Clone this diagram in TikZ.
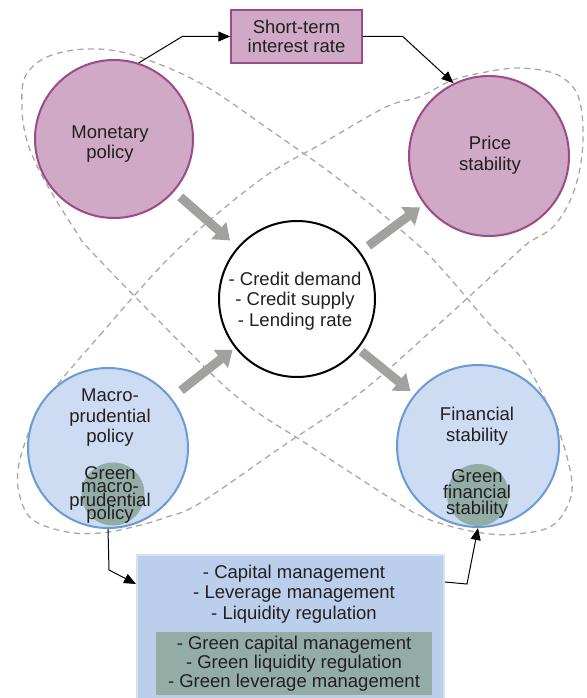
\documentclass[tikz,border=0pt]{standalone}
\usepackage{fontspec}
\setmainfont{Liberation Sans}
\usetikzlibrary{arrows.meta}
\definecolor{pinkfill}{RGB}{207,169,197}
\definecolor{pinkdraw}{RGB}{155,75,135}
\definecolor{bluefill}{RGB}{205,219,243}
\definecolor{bluedraw}{RGB}{105,155,212}
\definecolor{greenfill}{RGB}{147,173,166}
\definecolor{boxfill}{RGB}{187,206,236}
\definecolor{boxdraw}{RGB}{214,225,244}
\definecolor{dashgrey}{RGB}{168,168,168}
\definecolor{arrowgrey}{RGB}{160,162,160}
\definecolor{txt}{RGB}{35,31,32}
\begin{document}
\lineskiplimit=-50pt\relax
\begin{tikzpicture}[x=1pt,y=-1pt,
  font=\fontsize{18.5}{20.5}\selectfont,
  text=txt,
  lbl/.style={align=center, inner sep=0pt},
  pinkcirc/.style={circle, fill=pinkfill, draw=pinkdraw, line width=2pt, minimum size=#1, inner sep=0pt},
  bluecirc/.style={circle, fill=bluefill, draw=bluedraw, line width=2pt, minimum size=#1, inner sep=0pt},
  greencirc/.style={circle, fill=greenfill, minimum size=#1, inner sep=0pt},
  dashcurve/.style={draw=dashgrey, line width=1.3pt, dash pattern=on 6pt off 4.5pt},
  garrow/.style={draw=arrowgrey, line width=9pt, -{Triangle[length=15pt,width=22pt]}},
  blk/.style={draw=black, line width=1pt, -{Triangle[length=12pt,width=10pt]}}
]
\useasboundingbox (0,0) rectangle (586,698);

% dashed outlines
\draw[dashcurve] plot[smooth cycle, tension=0.6] coordinates {
  (25,77) (47,57) (87,49) (133,55) (200,83) (270,130) (340,180) (409,237)
  (440,267) (490,325) (523,360) (547,403) (563,443) (572,483) (567,507)
  (550,527) (517,534) (490,534) (457,528) (423,517) (390,498) (310,446)
  (237,397) (160,322) (90,250) (77,233) (50,190) (33,157) (25,133) (22,107)};
\draw[dashcurve] plot[smooth cycle, tension=0.6] coordinates {
  (43,403) (100,335) (177,250) (260,180) (323,143) (386,107) (419,97)
  (453,80) (486,72) (519,68) (553,73) (573,87) (581,107) (583,140)
  (579,173) (569,203) (553,227) (533,240) (520,250) (440,323) (360,393)
  (280,448) (200,503) (167,517) (133,527) (100,533) (67,532) (33,520)
  (20,497) (18,470) (27,437)};

% circles
\node[pinkcirc=158pt] (mon) at (114,139) {};
\node[pinkcirc=160pt] (price) at (489,156) {};
\node[circle, draw=black, line width=2pt, fill=white, minimum size=156pt, inner sep=0pt] (ctr) at (297,299) {};
\node[bluecirc=160pt] (macro) at (108,448) {};
\node[bluecirc=162pt] (fin) at (478,446) {};
\node[greencirc=63pt] (gmacro) at (113,494) {};
\node[greencirc=62pt] (gfin) at (478,495) {};

% texts in circles
\node[lbl] (montext) at (110,144) {Monetary\\policy};
\node[lbl] (pricetext) at (490,155) {Price\\stability};
\node[lbl] (ctrtext) at (295,301) {- Credit demand\\- Credit supply\\- Lending rate};
\node[lbl] (macrotext) at (110,418) {Macro-\\prudential\\policy};
\node[lbl] (fintext) at (477,426) {Financial\\stability};
\node[lbl, font=\fontsize{18.5}{13.5}\selectfont] (gmacrotext) at (110,495) {Green\\macro-\\prudential\\policy};
\node[lbl, font=\fontsize{18.5}{16}\selectfont] (gfintext) at (477,494) {Green\\financial\\stability};

% short-term box
\node[rectangle, fill=pinkfill, draw=pinkdraw, line width=1.5pt, minimum width=131pt, minimum height=53pt, align=center, inner sep=0pt,
  font=\fontsize{18.5}{19}\selectfont] (stbox) at (296.5,36.5) {Short-term\\interest rate};

% regulation box
\node[rectangle, anchor=north west, fill=boxfill, draw=boxdraw, line width=2pt, minimum width=307pt, minimum height=152pt, inner sep=0pt] (regbox) at (136,554) {};
\node[lbl] (regtext) at (294,594) {- Capital management\\- Leverage management\\- Liquidity regulation};
\node[rectangle, fill=greenfill, minimum width=276pt, minimum height=63pt, align=center, inner sep=0pt,
  font=\fontsize{18.5}{19}\selectfont] (greenbox) at (294,663.5) {- Green capital management\\- Green liquidity regulation\\- Green leverage management};

% grey transmission arrows
\draw[garrow, shorten <=8pt, shorten >=10pt] (mon) -- (ctr);
\draw[garrow, shorten <=10pt, shorten >=5pt] (ctr) -- (price);
\draw[garrow, shorten <=12pt, shorten >=3pt] (macro) -- (ctr);
\draw[garrow, shorten <=4pt, shorten >=5pt] (ctr) -- (fin);

% black connectors
\draw[blk] (mon.72) -- ([xshift=-48pt]stbox.west) -- (stbox.west);
\draw[blk] (stbox.east) -- ([xshift=40pt]stbox.east) -- (price.116);
\draw[blk] (macro.south) -- ++(1,41) -- ([yshift=-30pt]regbox.north west);
\draw[blk] ([yshift=-28pt]regbox.north east) -- ++(22,2) -- (fin.south);
\end{tikzpicture}
\end{document}
